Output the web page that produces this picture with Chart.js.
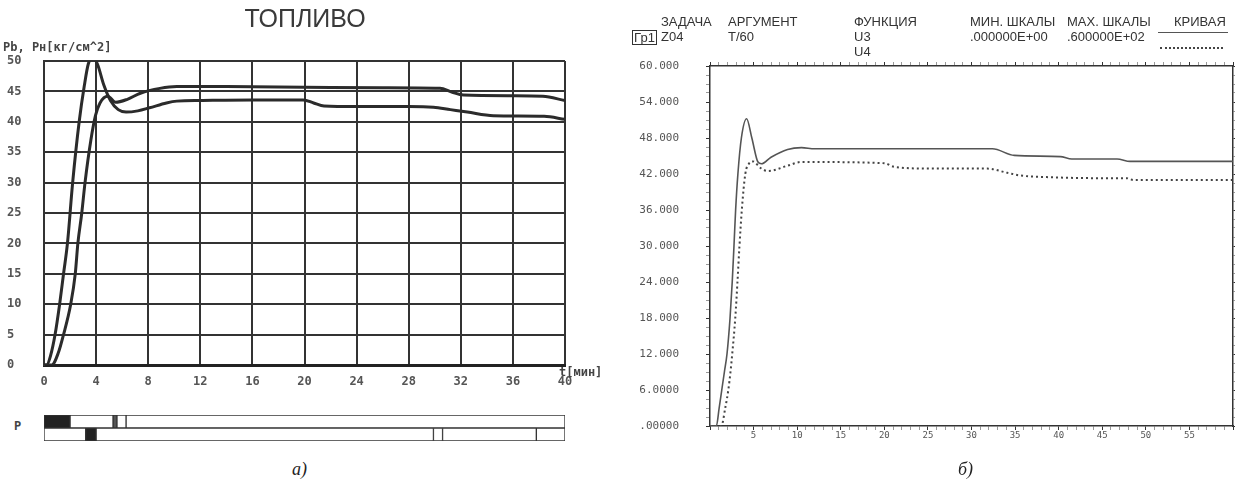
<!DOCTYPE html>
<html lang="ru">
<head>
  <meta charset="UTF-8" />
  <title>ТОПЛИВО</title>
  <script src="https://cdn.jsdelivr.net/npm/chart.js"></script>
  <style>
    html, body { margin: 0; padding: 0; background: #fff; }
    body {
      position: relative;
      width: 1235px;
      height: 488px;
      overflow: hidden;
      font-family: 'Liberation Sans', Arial, sans-serif;
      color: #333;
    }
    canvas { position: absolute; }
    .t { position: absolute; white-space: nowrap; font-size: 13px; line-height: 15px; z-index: 2; }
    .mono { position: absolute; white-space: nowrap; font-family: 'DejaVu Sans Mono', monospace; font-weight: bold; font-size: 12px; line-height: 14px; color: #444; z-index: 2; }
    .cap { position: absolute; font-family: 'Liberation Serif', serif; font-style: italic; font-size: 18px; line-height: 20px; color: #222; }
    #title { left: 205px; top: 4px; width: 200px; text-align: center; font-size: 25px; line-height: 28px; color: #3a3a3a; }
    #grBox { left: 632px; top: 30px; width: 23px; height: 13px; border: 1.5px solid #333; font-size: 13px; line-height: 13px; text-align: center; }
    .legLine { position: absolute; height: 0; }
  </style>
</head>

<body>
  <canvas id="leftChart" width="600" height="400" style="left:0;top:0"></canvas>
  <canvas id="stateChart" width="523" height="28" style="left:43px;top:414px"></canvas>
  <canvas id="rightChart" width="635" height="488" style="left:600px;top:0"></canvas>

  <!-- left panel texts -->
  <div id="title" class="t">ТОПЛИВО</div>
  <div class="mono" style="left:3px;top:40px">Pb, Pн[кг/см^2]</div>
  <div class="mono" style="left:559px;top:365px">t[мин]</div>
  <div class="mono" style="left:14px;top:419px">P</div>
  <div class="cap" style="left:292px;top:459px">а)</div>

  <!-- right panel header -->
  <div class="t" style="left:661px;top:14px">ЗАДАЧА</div>
  <div class="t" id="grBox">Гр1</div>
  <div class="t" style="left:661px;top:29px">Z04</div>
  <div class="t" style="left:728px;top:14px">АРГУМЕНТ</div>
  <div class="t" style="left:728px;top:29px">T/60</div>
  <div class="t" style="left:854px;top:14px">ФУНКЦИЯ</div>
  <div class="t" style="left:854px;top:29px">U3</div>
  <div class="t" style="left:854px;top:44px">U4</div>
  <div class="t" style="left:970px;top:14px">МИН. ШКАЛЫ</div>
  <div class="t" style="left:970px;top:29px">.000000E+00</div>
  <div class="t" style="left:1067px;top:14px">МАХ. ШКАЛЫ</div>
  <div class="t" style="left:1067px;top:29px">.600000E+02</div>
  <div class="t" style="left:1174px;top:14px">КРИВАЯ</div>
  <div class="legLine" style="left:1158px;top:32px;width:70px;border-top:1.5px solid #555"></div>
  <div class="legLine" style="left:1160px;top:47px;width:63px;border-top:2px dotted #444"></div>
  <div class="cap" style="left:958px;top:459px">б)</div>

  <script>
    // ---- panel а): fuel pressure, t in minutes ----
    const fuelTimeA = [0, 0.2, 0.5, 0.85, 1.2, 1.5, 1.8, 2.2, 2.7, 3.1, 3.4, 3.75, 4.1, 4.6, 5.1, 5.7, 6.3, 7.2, 8.1, 9.4, 10.2, 12, 16, 19.9, 20.7, 21.5, 24, 28, 29.9, 31.2, 32.5, 34.5, 38.4, 40];
    const fuelPressA = [0, 0, 1.5, 5, 10, 15, 20, 30, 40, 46, 49.5, 50.6, 49.5, 46, 43.5, 42, 41.6, 41.8, 42.3, 43.1, 43.4, 43.5, 43.6, 43.6, 43.1, 42.6, 42.5, 42.5, 42.4, 42, 41.6, 41.0, 40.9, 40.4];
    const fuelTimeB = [0, 0.6, 1.1, 1.5, 2.05, 2.4, 2.6, 2.9, 3.15, 3.6, 3.95, 4.3, 4.9, 5.5, 6.4, 7.4, 8.9, 10.2, 14, 20, 26, 30.4, 31.3, 32.2, 36, 38.3, 40];
    const fuelPressB = [0, 0, 2, 5, 10, 15, 20, 25, 30, 37, 41, 43.1, 44.2, 43.2, 43.7, 44.7, 45.5, 45.8, 45.8, 45.7, 45.6, 45.5, 44.9, 44.4, 44.3, 44.2, 43.5];

    // state strip "P" under panel а): segment edges (minutes) and fills per row
    const stateTopEdges = [0, 2.0, 5.3, 5.6, 6.3, 40];
    const stateTopFill = ['#222', '#fff', '#555', '#fff', '#fff'];
    const stateBottomEdges = [0, 3.2, 4.0, 29.9, 30.6, 37.8, 40];
    const stateBottomFill = ['#fff', '#222', '#fff', '#fff', '#fff', '#fff'];

    // ---- panel б): U3 (solid), U4 (dotted), argument T/60 ----
    const u3Time = [0, 0.73, 1.05, 1.35, 1.65, 1.95, 2.3, 2.55, 2.75, 2.94, 3.2, 3.6, 4.2, 4.8, 5.5, 5.9, 7.0, 8.9, 10.5, 12, 32.4, 34.9, 40.2, 41.5, 46.7, 48.2, 60];
    const u3Value = [0, 0, 3, 6, 9, 12, 18, 24, 30, 36, 42, 48, 51.2, 48, 44, 43.7, 44.8, 46.1, 46.4, 46.2, 46.2, 45.1, 44.9, 44.5, 44.5, 44.1, 44.1];
    const u4Time = [0, 1.3, 1.75, 2.1, 2.35, 2.55, 2.9, 3.15, 3.38, 3.65, 4.05, 4.5, 4.93, 5.8, 6.65, 8.94, 10.46, 20, 21.1, 25.3, 31.8, 34.1, 35.6, 38.3, 45.2, 47.8, 48.6, 60];
    const u4Value = [0, 0, 3, 6, 9, 12, 18, 24, 30, 36, 42, 43.8, 44.1, 43.0, 42.5, 43.4, 44.0, 43.8, 43.2, 42.9, 42.9, 42.2, 41.75, 41.5, 41.3, 41.3, 41.0, 41.0];

    const pairs = (xs, ys) => xs.map((x, i) => ({ x: x, y: ys[i] }));

    // left chart
    const dotFont = { family: 'DejaVu Sans Mono', size: 12, weight: 'bold' };
    new Chart(document.getElementById('leftChart'), {
      type: 'line',
      data: {
        datasets: [
          { data: pairs(fuelTimeA, fuelPressA), borderColor: '#2b2b2b', borderWidth: 3, pointRadius: 0, cubicInterpolationMode: 'monotone' },
          { data: pairs(fuelTimeB, fuelPressB), borderColor: '#2b2b2b', borderWidth: 3, pointRadius: 0, cubicInterpolationMode: 'monotone' }
        ]
      },
      options: {
        responsive: false,
        animation: false,
        layout: { padding: { left: 7, top: 61, right: 35, bottom: 0 } },
        plugins: { legend: { display: false }, tooltip: { enabled: false } },
        scales: {
          x: {
            type: 'linear', min: 0, max: 40,
            afterFit: s => { s.height = 35; },
            ticks: { stepSize: 4, padding: 10, maxRotation: 0, color: '#555', font: dotFont },
            grid: { color: '#333', lineWidth: 2, drawTicks: false },
            border: { color: '#222', width: 3 }
          },
          y: {
            min: 0, max: 50,
            afterFit: s => { s.width = 37; },
            ticks: { stepSize: 5, crossAlign: 'far', color: '#555', font: dotFont },
            grid: { color: '#333', lineWidth: 2, drawTicks: false },
            border: { color: '#333', width: 2 }
          }
        }
      }
    });

    // state strip
    const stateSegs = (edges, i) => (i < edges.length - 1 ? [edges[i], edges[i + 1]] : null);
    const stateSets = [];
    const nSeg = Math.max(stateTopEdges.length, stateBottomEdges.length) - 1;
    for (let i = 0; i < nSeg; i++) {
      stateSets.push({
        data: [stateSegs(stateTopEdges, i), stateSegs(stateBottomEdges, i)],
        backgroundColor: [stateTopFill[i] || '#fff', stateBottomFill[i] || '#fff'],
        borderColor: '#333',
        borderWidth: 1,
        borderSkipped: false,
        grouped: false,
        barPercentage: 1,
        categoryPercentage: 1
      });
    }
    new Chart(document.getElementById('stateChart'), {
      type: 'bar',
      data: { labels: ['1', '2'], datasets: stateSets },
      options: {
        indexAxis: 'y',
        responsive: false,
        animation: false,
        layout: { padding: 1 },
        plugins: { legend: { display: false }, tooltip: { enabled: false } },
        scales: {
          x: { type: 'linear', min: 0, max: 40, display: false },
          y: { display: false }
        }
      }
    });

    // right chart
    const majorColor = c => (c.tick && Math.abs(c.tick.value % 5) < 1e-9 ? '#333' : '#999');
    const majorColorY = c => (c.tick && Math.abs(c.tick.value % 6) < 1e-9 ? '#333' : '#999');
    const yFmt = v => {
      if (Math.abs(v % 6) > 1e-9) return '';
      if (v === 0) return '.00000';
      return v < 10 ? v.toFixed(4) : v.toFixed(3);
    };
    const tickGrid = (col) => ({ drawOnChartArea: false, tickLength: 4, tickColor: col, tickWidth: 1 });
    const axisBorder = { color: '#333', width: 1.5 };

    new Chart(document.getElementById('rightChart'), {
      type: 'line',
      data: {
        datasets: [
          { label: 'U3', data: pairs(u3Time, u3Value), borderColor: '#555', borderWidth: 1.6, pointRadius: 0, cubicInterpolationMode: 'monotone' },
          { label: 'U4', data: pairs(u4Time, u4Value), borderColor: '#444', borderWidth: 2, borderDash: [2, 3], pointRadius: 0, cubicInterpolationMode: 'monotone' }
        ]
      },
      options: {
        responsive: false,
        animation: false,
        layout: { padding: 0 },
        plugins: { legend: { display: false }, tooltip: { enabled: false } },
        scales: {
          x: {
            type: 'linear', position: 'bottom', min: 0, max: 60,
            afterFit: s => { s.height = 62; },
            ticks: {
              stepSize: 1, autoSkip: false, maxRotation: 0, padding: 0, color: '#555',
              font: { family: 'DejaVu Sans Mono', size: 9 },
              callback: v => (v % 5 === 0 && v > 0 && v < 60 ? String(v) : '')
            },
            grid: tickGrid(majorColor),
            border: axisBorder
          },
          xTop: {
            type: 'linear', position: 'top', min: 0, max: 60,
            afterFit: s => { s.height = 66; },
            ticks: { stepSize: 1, display: false },
            grid: tickGrid(majorColor),
            border: axisBorder
          },
          y: {
            type: 'linear', position: 'left', min: 0, max: 60,
            afterFit: s => { s.width = 110; },
            ticks: {
              stepSize: 1.5, autoSkip: false, padding: 27, color: '#555',
              font: { family: 'DejaVu Sans Mono', size: 11 },
              callback: yFmt
            },
            grid: tickGrid(majorColorY),
            border: axisBorder
          },
          yRight: {
            type: 'linear', position: 'right', min: 0, max: 60,
            afterFit: s => { s.width = 2; },
            ticks: { stepSize: 1.5, display: false },
            grid: tickGrid(majorColorY),
            border: axisBorder
          }
        }
      }
    });
  </script>
</body>

</html>
